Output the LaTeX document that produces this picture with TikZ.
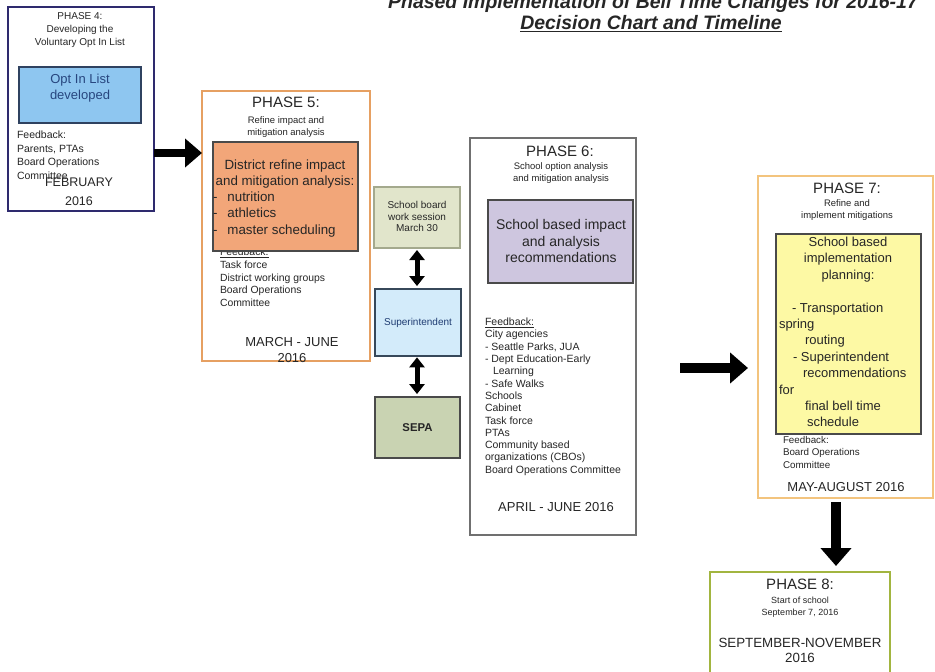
\documentclass[tikz,border=0pt]{standalone}
\usepackage{fontspec}
\setmainfont{Liberation Sans}
\usetikzlibrary{arrows.meta}

\definecolor{ink}{HTML}{262626}
\definecolor{navy}{HTML}{2E2A6E}
\definecolor{optfill}{HTML}{8EC6F0}
\definecolor{optline}{HTML}{2F4260}
\definecolor{opttext}{HTML}{27467F}
\definecolor{p5line}{HTML}{E6A062}
\definecolor{p5fill}{HTML}{F2A679}
\definecolor{boxline}{HTML}{4A4A4A}
\definecolor{sbfill}{HTML}{E1E5CB}
\definecolor{sbline}{HTML}{A4A98D}
\definecolor{supfill}{HTML}{D3EBFA}
\definecolor{supline}{HTML}{37485A}
\definecolor{suptext}{HTML}{1F3C72}
\definecolor{sepafill}{HTML}{C9D3B2}
\definecolor{p6line}{HTML}{707070}
\definecolor{p6fill}{HTML}{CEC6DF}
\definecolor{p7line}{HTML}{F3C47E}
\definecolor{p7fill}{HTML}{FDF9A4}
\definecolor{p8line}{HTML}{A2B540}

\tikzset{
  frame/.style={draw, line width=1.5pt, fill=white, inner sep=0pt, outer sep=0pt},
  card/.style={draw=boxline, line width=1.1pt, inner sep=0pt, outer sep=0pt},
  sz/.style 2 args={minimum width=#1*0.75pt, minimum height=#2*0.75pt},
  txt/.style={inner sep=0pt, outer sep=0pt, text=ink},
  heading/.style={txt, anchor=north, font=\fontsize{11.25}{13}\selectfont},
  small/.style={txt, anchor=north, align=center, font=\fontsize{7.1}{9.375}\selectfont},
  period/.style={txt, anchor=north, align=center, font=\fontsize{9.75}{12.4}\selectfont},
  fatA/.style={line width=6pt, -{Triangle[width=21pt,length=12.75pt]}},
  fatB/.style={line width=7.5pt, -{Triangle[width=22.5pt,length=13.5pt]}},
  dbl/.style={line width=3.75pt, {Triangle[width=11.25pt,length=7.5pt]}-{Triangle[width=11.25pt,length=7.5pt]}}
}

\begin{document}
\begin{tikzpicture}[x=0.75pt,y=-0.75pt]
\useasboundingbox (0,0) rectangle (935,671);
\fill[white] (0,0) rectangle (935,671);

% heading
\node[txt, anchor=base, font=\fontsize{14.6}{15.75}\selectfont\bfseries\itshape] (title) at (653,8)
  {Phased Implementation of Bell Time Changes for 2016-17};
\node[txt, anchor=base, font=\fontsize{14.6}{15.75}\selectfont\bfseries\itshape] (subtitle) at (651,29)
  {\underline{Decision Chart and Timeline}};

% phase frames
\node[frame, draw=navy, sz={146}{204}] (p4) at (81,109) {};
\node[frame, draw=p5line, sz={168}{270}] (p5) at (286,226) {};
\node[frame, draw=p6line, line width=1.2pt, sz={166}{397}] (p6) at (553,336.5) {};
\node[frame, draw=p7line, sz={175}{322}] (p7) at (845.5,337) {};
\node[frame, draw=p8line, sz={180}{108}] (p8) at (800,626) {};

% ---- Phase 4
\node[txt, anchor=north, align=center, font=\fontsize{7.5}{9.75}\selectfont] (p4head) at (80,12.2)
  {PHASE 4:\\Developing the\\Voluntary Opt In List};
\node[card, draw=optline, fill=optfill, sz={122}{56}] (optin) at (80,95) {};
\node[txt, anchor=north, align=center, text=opttext, font=\fontsize{9.75}{12.4}\selectfont] (optintext) at (80,74)
  {Opt In List\\developed};
\node[txt, anchor=north west, align=left, font=\fontsize{7.875}{10.125}\selectfont] (p4fb) at (17,131)
  {Feedback:\\Parents, PTAs\\Board Operations\\Committee};
\node[txt, anchor=north, align=center, font=\fontsize{9.375}{14.25}\selectfont] (p4date) at (79,178.3)
  {FEBRUARY\\2016};

% ---- Phase 5
\node[heading] (p5head) at (286,97.3) {PHASE 5:};
\node[small] (p5sub) at (286,116.4) {Refine impact and\\mitigation analysis};
\node[txt, anchor=north west, align=left, font=\fontsize{7.8}{9.6}\selectfont] (p5fb) at (220,248)
  {\underline{Feedback:}\\Task force\\District working groups\\Board Operations\\Committee};
\node[card, fill=p5fill, sz={145}{109}] (district) at (285.5,196.5) {};
\node[txt, anchor=north, align=center, font=\fontsize{10}{12.2}\selectfont] (disttext) at (285,160)
  {District refine impact\\and mitigation analysis:};
\node[txt, anchor=north west, align=left, font=\fontsize{10}{12.2}\selectfont] (distlist) at (213,192)
  {-\hspace{7.5pt}nutrition\\-\hspace{7.5pt}athletics\\-\hspace{7.5pt}master scheduling};
\node[period] (p5date) at (292,337) {MARCH - JUNE\\2016};

% ---- board, superintendent, SEPA
\node[card, draw=sbline, fill=sbfill, sz={86}{61}] (sb) at (417,217.5) {};
\node[txt, anchor=north, align=center, font=\fontsize{7.5}{8.8}\selectfont] (sbtext) at (417,201.2)
  {School board\\work session\\March 30};
\node[card, draw=supline, fill=supfill, sz={86}{67}] (sup) at (418,322.5) {};
\node[txt, text=suptext, font=\fontsize{7.5}{9}\selectfont] (suptext) at (418,322.5) {Superintendent};
\node[card, fill=sepafill, sz={85}{61}] (sepa) at (417.5,427.5) {};
\node[txt, font=\fontsize{8.5}{10}\selectfont\bfseries] (sepatext) at (417.5,428) {SEPA};

% ---- Phase 6
\node[heading] (p6head) at (560,146.3) {PHASE 6:};
\node[small] (p6sub) at (561,162.4) {School option analysis\\and mitigation analysis};
\node[card, fill=p6fill, sz={145}{83}] (impact) at (560.5,241.5) {};
\node[txt, anchor=north, align=center, font=\fontsize{10.5}{12.225}\selectfont] (impacttext) at (561,219.7)
  {School based impact\\and analysis\\recommendations};
\node[txt, anchor=north west, align=left, font=\fontsize{7.875}{9.225}\selectfont] (p6fb) at (485,318)
  {\underline{Feedback:}\\City agencies\\- Seattle Parks, JUA\\- Dept Education-Early\\\hspace*{6pt}Learning\\- Safe Walks\\Schools\\Cabinet\\Task force\\PTAs\\Community based\\organizations (CBOs)\\Board Operations Committee};
\node[period] (p6date) at (556,502) {APRIL - JUNE 2016};

% ---- Phase 7
\node[heading] (p7head) at (847,183.3) {PHASE 7:};
\node[small] (p7sub) at (847,199.4) {Refine and\\implement mitigations};
\node[card, fill=p7fill, sz={145}{200}] (plan) at (848.5,334) {};
\node[txt, anchor=north, align=center, font=\fontsize{9.75}{12.3}\selectfont] (plantext) at (848,237)
  {School based\\implementation\\planning:};
\node[txt, anchor=north west, align=left, font=\fontsize{9.75}{12.3}\selectfont] (planlist) at (779,302.7)
  {\hspace*{9.75pt}- Transportation\\spring\\\hspace*{19.5pt}routing\\\hspace*{10.5pt}- Superintendent\\\hspace*{18pt}recommendations\\for\\\hspace*{19.5pt}final bell time\\\hspace*{21pt}schedule};
\node[txt, anchor=north west, align=left, font=\fontsize{7.35}{9.375}\selectfont] (p7fb) at (783,436.3)
  {Feedback:\\Board Operations\\Committee};
\node[period] (p7date) at (846,482) {MAY-AUGUST 2016};

% ---- Phase 8
\node[heading] (p8head) at (800,579.3) {PHASE 8:};
\node[small, font=\fontsize{6.75}{9.375}\selectfont] (p8sub) at (800,596.6) {Start of school\\September 7, 2016};
\node[txt, anchor=north, align=center, font=\fontsize{10}{11.625}\selectfont] (p8date) at (800,638)
  {SEPTEMBER-NOVEMBER\\2016};

% ---- connectors
\coordinate (a1) at (0,153);
\draw[fatA] (p4.east |- a1) -- (p5.west |- a1);
\coordinate (a2) at (0,368);
\draw[fatB, shorten <=33pt, shorten >=7.5pt] (p6.east |- a2) -- (p7.west |- a2);
\coordinate (a3) at (836,0);
\draw[fatB, shorten <=3pt, shorten >=4.5pt] (p7.south -| a3) -- (p8.north -| a3);
\coordinate (a4) at (417,0);
\draw[dbl, shorten <=1.5pt, shorten >=2.2pt] (sb.south -| a4) -- (sup.north -| a4);
\draw[dbl, shorten <=1pt, shorten >=2.2pt] (sup.south -| a4) -- (sepa.north -| a4);
\end{tikzpicture}
\end{document}
